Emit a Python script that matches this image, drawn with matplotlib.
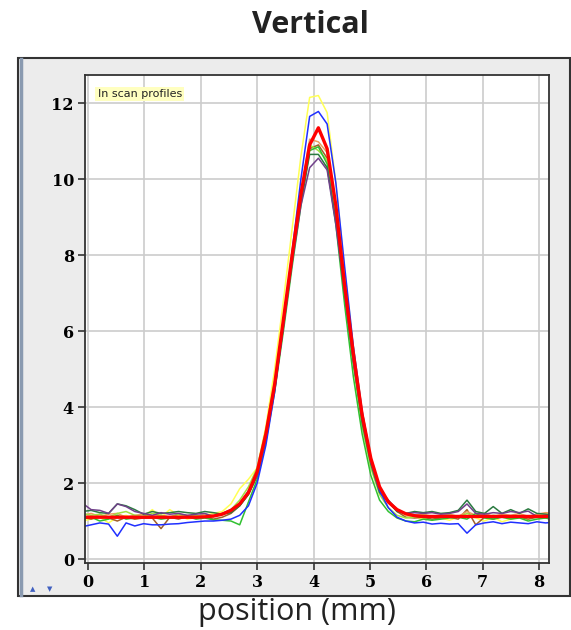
import numpy as np
import matplotlib.pyplot as plt
from matplotlib.patches import Rectangle

# sample positions along the scan (mm)
position = np.arange(55) * 0.155 - 0.1

# profile values (a.u.), one list per scan
yellow = [1.0, 1.05, 1.1, 0.95, 1.1, 1.15, 1.05, 1.1, 1.3, 1.1, 1.3, 1.15, 1.05, 1.1, 1.15, 1.2, 1.25, 1.45, 1.85, 2.1,
          2.4, 3.5, 5.0, 6.8, 8.7, 10.6, 12.15, 12.2, 11.75, 9.9, 7.6, 5.6, 3.9, 2.7, 1.9,
          1.5, 1.3, 1.15, 1.1, 1.05, 1.12, 1.08, 1.02, 1.1, 1.15, 1.08, 1.0, 1.1, 0.98, 1.05, 1.1, 1.05, 1.15, 1.2, 1.18]
blue = [0.85, 0.9, 0.95, 0.92, 0.6, 0.95, 0.87, 0.93, 0.9, 0.9, 0.92, 0.93, 0.96, 0.98, 1.0, 1.0, 1.02, 1.05, 1.15, 1.4,
        2.0, 3.0, 4.4, 6.2, 8.1, 10.0, 11.65, 11.78, 11.45, 9.9, 7.7, 5.6, 3.9, 2.65, 1.8,
        1.35, 1.1, 1.0, 0.95, 0.97, 0.92, 0.94, 0.92, 0.93, 0.68, 0.9, 0.95, 0.98, 0.93, 0.97, 0.95, 0.93, 0.98, 0.95, 0.97]
orange = [1.15, 1.2, 1.12, 1.18, 1.2, 1.1, 1.15, 1.18, 1.12, 1.15, 1.1, 1.18, 1.15, 1.12, 1.18, 1.15, 1.2, 1.25, 1.45, 1.75,
          2.3, 3.3, 4.6, 6.3, 8.0, 9.6, 11.05, 10.98, 10.7, 9.2, 7.1, 5.3, 3.7, 2.6, 1.85,
          1.55, 1.3, 1.2, 1.15, 1.18, 1.12, 1.15, 1.18, 1.12, 1.25, 1.15, 1.2, 1.12, 1.18, 1.15, 1.2, 1.12, 1.18, 1.22, 1.2]
lightgreen = [1.2, 1.15, 1.18, 1.1, 1.2, 1.25, 1.15, 1.12, 1.2, 1.15, 1.1, 1.18, 1.12, 1.15, 1.1, 1.12, 1.18, 1.3, 1.55, 1.9,
              2.4, 3.4, 4.7, 6.3, 8.0, 9.5, 10.9, 10.75, 10.5, 9.0, 6.9, 5.1, 3.5, 2.4, 1.7,
              1.35, 1.15, 1.08, 1.1, 1.15, 1.1, 1.12, 1.15, 1.1, 1.2, 1.12, 1.1, 1.15, 1.12, 1.1, 1.15, 1.1, 1.12, 1.15, 1.1]
darkgreen = [1.25, 1.28, 1.22, 1.2, 1.45, 1.4, 1.3, 1.18, 1.25, 1.2, 1.22, 1.25, 1.22, 1.2, 1.25, 1.22, 1.18, 1.22, 1.4, 1.7,
             2.2, 3.2, 4.5, 6.2, 7.9, 9.4, 10.65, 10.65, 10.3, 8.9, 7.0, 5.2, 3.6, 2.5, 1.75,
             1.5, 1.25, 1.2, 1.25, 1.22, 1.25, 1.2, 1.22, 1.28, 1.55, 1.25, 1.2, 1.38, 1.2, 1.3, 1.2, 1.32, 1.2, 1.18, 1.15]
purple = [1.47, 1.3, 1.28, 1.2, 1.45, 1.38, 1.25, 1.2, 1.15, 1.22, 1.18, 1.2, 1.15, 1.18, 1.2, 1.12, 1.2, 1.3, 1.45, 1.8,
          2.2, 3.2, 4.5, 6.1, 7.8, 9.3, 10.3, 10.55, 10.24, 8.8, 7.0, 5.2, 3.7, 2.55, 1.8,
          1.55, 1.3, 1.2, 1.22, 1.2, 1.22, 1.18, 1.2, 1.25, 1.45, 1.2, 1.18, 1.22, 1.2, 1.25, 1.22, 1.26, 1.12, 1.15, 1.1]
brown = [1.1, 1.05, 1.12, 1.08, 1.0, 1.1, 1.05, 1.08, 1.08, 0.8, 1.1, 1.05, 1.12, 1.08, 1.1, 1.05, 1.1, 1.2, 1.4, 1.7,
         2.2, 3.2, 4.5, 6.2, 7.9, 9.5, 10.8, 10.9, 10.55, 9.1, 7.1, 5.3, 3.7, 2.6, 1.85,
         1.5, 1.25, 1.1, 1.08, 1.1, 1.05, 1.08, 1.1, 1.05, 1.3, 0.9, 1.1, 1.05, 1.12, 1.08, 1.1, 1.05, 1.1, 1.08, 1.05]
green = [1.05, 1.1, 1.0, 1.05, 1.15, 1.05, 1.08, 1.12, 1.1, 1.05, 1.08, 1.1, 1.12, 1.05, 1.08, 1.03, 1.02, 1.0, 0.9, 1.5,
         2.1, 3.1, 4.4, 6.0, 7.7, 9.3, 10.75, 10.85, 10.4, 8.8, 6.7, 4.8, 3.3, 2.2, 1.55,
         1.25, 1.08, 1.0, 0.98, 1.05, 1.02, 1.05, 1.08, 1.1, 1.05, 1.2, 1.08, 1.05, 1.1, 1.05, 1.08, 1.0, 1.05, 1.08, 1.02]
# fitted profile
fit = [1.1] * 14 + [1.11, 1.13, 1.18, 1.28, 1.45, 1.75,
       2.3, 3.3, 4.6, 6.3, 8.0, 9.6, 10.9, 11.35, 10.8, 9.3, 7.2, 5.4, 3.8, 2.65, 1.9,
       1.5, 1.3, 1.19, 1.14] + [1.12] * 16

scans = [
    (yellow, "#ffff55"),
    (brown, "#a0602a"),
    (orange, "#e8a060"),
    (lightgreen, "#a0e040"),
    (green, "#30c030"),
    (darkgreen, "#2a7a40"),
    (purple, "#70408a"),
    (blue, "#2030ff"),
]

fig = plt.figure(figsize=(5.71, 6.3), dpi=100)

# grey panel behind the plot
fig.patches.append(Rectangle((18 / 571, 34 / 630), 552 / 571, 538 / 630,
                             transform=fig.transFigure, facecolor="#ececec",
                             edgecolor="#333333", linewidth=1.5, zorder=-2))
fig.lines.append(plt.Line2D([21.5 / 571, 21.5 / 571], [35 / 630, 571 / 630],
                            transform=fig.transFigure, color="#8a9ab0",
                            linewidth=2.5, zorder=-1))
fig.text(33 / 571, 38 / 630, "\u25b2", color="#4060c0", fontsize=5, ha="center", va="bottom")
fig.text(50 / 571, 38 / 630, "\u25bc", color="#4060c0", fontsize=5, ha="center", va="bottom")

ax = fig.add_axes([85 / 571, 67 / 630, 464 / 571, 488 / 630])
ax.set_zorder(2)
ax.set_facecolor("white")

for values, color in scans:
    ax.plot(position, values, color=color, linewidth=1.1)
ax.plot(position, fit, color="#ff0000", linewidth=2.4)

ax.set_xlim(-0.053, 8.174)
ax.set_ylim(-0.105, 12.74)
ax.set_xticks(range(0, 9))
ax.set_yticks(range(0, 13, 2))
ax.grid(True, color="#cccccc", linewidth=1.2)
ax.set_axisbelow(True)
for side in ax.spines.values():
    side.set_color("#333333")
    side.set_linewidth(1.3)
ax.tick_params(direction="out", length=5, width=1.2, color="#333333", pad=3)
for lab in ax.get_xticklabels() + ax.get_yticklabels():
    lab.set_fontfamily("DejaVu Serif")
    lab.set_fontweight("bold")
    lab.set_fontsize(11.5)

ax.text(0.027, 0.961, "In scan profiles", transform=ax.transAxes, fontsize=8,
        va="center", ha="left", color="#222222",
        bbox=dict(facecolor="#ffffc0", edgecolor="none", pad=1.5))

fig.text(310 / 571, 1 - 25 / 630, "Vertical", fontsize=22, fontweight="bold",
         family="Open Sans", ha="center", va="center", color="#222222")
fig.text(297 / 571, 1 - 612 / 630, "position (mm)", fontsize=22,
         family="Open Sans", ha="center", va="center", color="#222222")

fig.savefig("out.png", dpi=100)
